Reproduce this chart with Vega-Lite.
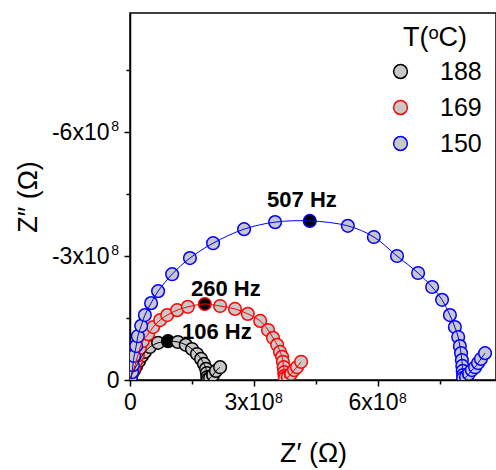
{
 "$schema": "https://vega.github.io/schema/vega-lite/v6.json",
 "width": 366,
 "height": 367,
 "autosize": {"type": "none"},
 "padding": {"left": 130, "top": 13, "right": 0, "bottom": 90},
 "config": {
  "font": "Liberation Sans",
  "view": {"stroke": "black", "strokeWidth": 1.5},
  "axis": {"grid": false, "domainColor": "black", "domainWidth": 1.5, "tickColor": "black", "tickWidth": 1.5, "labelColor": "black", "titleColor": "black", "labelFontSize": 23, "titleFontSize": 27, "titleFontWeight": "normal", "labelOverlap": false, "labelFlush": false}
 },
 "datasets": {
  "nyq": [
   {"T":"188","i":1,"zr":0.02e8,"zi":-0.05e8,"peak":false},
   {"T":"188","i":2,"zr":0.05e8,"zi":-0.15e8,"peak":false},
   {"T":"188","i":3,"zr":0.10e8,"zi":-0.24e8,"peak":false},
   {"T":"188","i":4,"zr":0.15e8,"zi":-0.34e8,"peak":false},
   {"T":"188","i":5,"zr":0.22e8,"zi":-0.46e8,"peak":false},
   {"T":"188","i":6,"zr":0.29e8,"zi":-0.58e8,"peak":false},
   {"T":"188","i":7,"zr":0.36e8,"zi":-0.68e8,"peak":false},
   {"T":"188","i":8,"zr":0.48e8,"zi":-0.80e8,"peak":false},
   {"T":"188","i":9,"zr":0.68e8,"zi":-0.90e8,"peak":false},
   {"T":"188","i":10,"zr":0.92e8,"zi":-0.94e8,"peak":true},
   {"T":"188","i":11,"zr":1.16e8,"zi":-0.92e8,"peak":false},
   {"T":"188","i":12,"zr":1.35e8,"zi":-0.85e8,"peak":false},
   {"T":"188","i":13,"zr":1.50e8,"zi":-0.75e8,"peak":false},
   {"T":"188","i":14,"zr":1.62e8,"zi":-0.63e8,"peak":false},
   {"T":"188","i":15,"zr":1.72e8,"zi":-0.51e8,"peak":false},
   {"T":"188","i":16,"zr":1.79e8,"zi":-0.39e8,"peak":false},
   {"T":"188","i":17,"zr":1.84e8,"zi":-0.27e8,"peak":false},
   {"T":"188","i":18,"zr":1.86e8,"zi":-0.17e8,"peak":false},
   {"T":"188","i":19,"zr":1.87e8,"zi":-0.07e8,"peak":false},
   {"T":"188","i":20,"zr":1.89e8,"zi":-0.02e8,"peak":false},
   {"T":"188","i":21,"zr":1.94e8,"zi":-0.05e8,"peak":false},
   {"T":"188","i":22,"zr":2.01e8,"zi":-0.12e8,"peak":false},
   {"T":"188","i":23,"zr":2.08e8,"zi":-0.22e8,"peak":false},
   {"T":"188","i":24,"zr":2.18e8,"zi":-0.31e8,"peak":false},
   {"T":"169","i":1,"zr":0.02e8,"zi":-0.05e8,"peak":false},
   {"T":"169","i":2,"zr":0.05e8,"zi":-0.17e8,"peak":false},
   {"T":"169","i":3,"zr":0.10e8,"zi":-0.29e8,"peak":false},
   {"T":"169","i":4,"zr":0.15e8,"zi":-0.46e8,"peak":false},
   {"T":"169","i":5,"zr":0.19e8,"zi":-0.60e8,"peak":false},
   {"T":"169","i":6,"zr":0.24e8,"zi":-0.77e8,"peak":false},
   {"T":"169","i":7,"zr":0.31e8,"zi":-0.94e8,"peak":false},
   {"T":"169","i":8,"zr":0.44e8,"zi":-1.11e8,"peak":false},
   {"T":"169","i":9,"zr":0.56e8,"zi":-1.28e8,"peak":false},
   {"T":"169","i":10,"zr":0.73e8,"zi":-1.45e8,"peak":false},
   {"T":"169","i":11,"zr":0.90e8,"zi":-1.57e8,"peak":false},
   {"T":"169","i":12,"zr":1.14e8,"zi":-1.69e8,"peak":false},
   {"T":"169","i":13,"zr":1.40e8,"zi":-1.77e8,"peak":false},
   {"T":"169","i":14,"zr":1.81e8,"zi":-1.84e8,"peak":true},
   {"T":"169","i":15,"zr":2.18e8,"zi":-1.79e8,"peak":false},
   {"T":"169","i":16,"zr":2.54e8,"zi":-1.72e8,"peak":false},
   {"T":"169","i":17,"zr":2.85e8,"zi":-1.60e8,"peak":false},
   {"T":"169","i":18,"zr":3.15e8,"zi":-1.43e8,"peak":false},
   {"T":"169","i":19,"zr":3.34e8,"zi":-1.21e8,"peak":false},
   {"T":"169","i":20,"zr":3.46e8,"zi":-1.02e8,"peak":false},
   {"T":"169","i":21,"zr":3.56e8,"zi":-0.85e8,"peak":false},
   {"T":"169","i":22,"zr":3.63e8,"zi":-0.68e8,"peak":false},
   {"T":"169","i":23,"zr":3.68e8,"zi":-0.56e8,"peak":false},
   {"T":"169","i":24,"zr":3.70e8,"zi":-0.44e8,"peak":false},
   {"T":"169","i":25,"zr":3.72e8,"zi":-0.31e8,"peak":false},
   {"T":"169","i":26,"zr":3.73e8,"zi":-0.19e8,"peak":false},
   {"T":"169","i":27,"zr":3.74e8,"zi":-0.10e8,"peak":false},
   {"T":"169","i":28,"zr":3.75e8,"zi":-0.05e8,"peak":false},
   {"T":"169","i":29,"zr":3.82e8,"zi":-0.07e8,"peak":false},
   {"T":"169","i":30,"zr":3.90e8,"zi":-0.15e8,"peak":false},
   {"T":"169","i":31,"zr":3.97e8,"zi":-0.24e8,"peak":false},
   {"T":"169","i":32,"zr":4.04e8,"zi":-0.31e8,"peak":false},
   {"T":"169","i":33,"zr":4.14e8,"zi":-0.44e8,"peak":false},
   {"T":"150","i":1,"zr":0.02e8,"zi":-0.05e8,"peak":false},
   {"T":"150","i":2,"zr":0.05e8,"zi":-0.19e8,"peak":false},
   {"T":"150","i":3,"zr":0.07e8,"zi":-0.36e8,"peak":false},
   {"T":"150","i":4,"zr":0.10e8,"zi":-0.58e8,"peak":false},
   {"T":"150","i":5,"zr":0.15e8,"zi":-0.82e8,"peak":false},
   {"T":"150","i":6,"zr":0.19e8,"zi":-1.06e8,"peak":false},
   {"T":"150","i":7,"zr":0.27e8,"zi":-1.31e8,"peak":false},
   {"T":"150","i":8,"zr":0.36e8,"zi":-1.57e8,"peak":false},
   {"T":"150","i":9,"zr":0.51e8,"zi":-1.86e8,"peak":false},
   {"T":"150","i":10,"zr":0.68e8,"zi":-2.15e8,"peak":false},
   {"T":"150","i":11,"zr":1.02e8,"zi":-2.56e8,"peak":false},
   {"T":"150","i":12,"zr":1.45e8,"zi":-2.95e8,"peak":false},
   {"T":"150","i":13,"zr":2.01e8,"zi":-3.31e8,"peak":false},
   {"T":"150","i":14,"zr":2.76e8,"zi":-3.65e8,"peak":false},
   {"T":"150","i":15,"zr":3.51e8,"zi":-3.82e8,"peak":false},
   {"T":"150","i":16,"zr":4.35e8,"zi":-3.85e8,"peak":true},
   {"T":"150","i":17,"zr":5.27e8,"zi":-3.73e8,"peak":false},
   {"T":"150","i":18,"zr":5.90e8,"zi":-3.46e8,"peak":false},
   {"T":"150","i":19,"zr":6.46e8,"zi":-3.00e8,"peak":false},
   {"T":"150","i":20,"zr":6.97e8,"zi":-2.59e8,"peak":false},
   {"T":"150","i":21,"zr":7.31e8,"zi":-2.25e8,"peak":false},
   {"T":"150","i":22,"zr":7.55e8,"zi":-1.94e8,"peak":false},
   {"T":"150","i":23,"zr":7.74e8,"zi":-1.57e8,"peak":false},
   {"T":"150","i":24,"zr":7.86e8,"zi":-1.28e8,"peak":false},
   {"T":"150","i":25,"zr":7.94e8,"zi":-1.04e8,"peak":false},
   {"T":"150","i":26,"zr":7.98e8,"zi":-0.82e8,"peak":false},
   {"T":"150","i":27,"zr":8.01e8,"zi":-0.65e8,"peak":false},
   {"T":"150","i":28,"zr":8.03e8,"zi":-0.48e8,"peak":false},
   {"T":"150","i":29,"zr":8.04e8,"zi":-0.34e8,"peak":false},
   {"T":"150","i":30,"zr":8.05e8,"zi":-0.22e8,"peak":false},
   {"T":"150","i":31,"zr":8.06e8,"zi":-0.12e8,"peak":false},
   {"T":"150","i":32,"zr":8.06e8,"zi":-0.05e8,"peak":false},
   {"T":"150","i":33,"zr":8.13e8,"zi":-0.07e8,"peak":false},
   {"T":"150","i":34,"zr":8.20e8,"zi":-0.15e8,"peak":false},
   {"T":"150","i":35,"zr":8.27e8,"zi":-0.24e8,"peak":false},
   {"T":"150","i":36,"zr":8.35e8,"zi":-0.31e8,"peak":false},
   {"T":"150","i":37,"zr":8.42e8,"zi":-0.41e8,"peak":false},
   {"T":"150","i":38,"zr":8.49e8,"zi":-0.51e8,"peak":false},
   {"T":"150","i":39,"zr":8.59e8,"zi":-0.65e8,"peak":false}
  ],
  "notes": [
   {"label":"507 Hz","zr":4.16e8,"zi":-4.35e8},
   {"label":"260 Hz","zr":2.32e8,"zi":-2.20e8},
   {"label":"106 Hz","zr":2.10e8,"zi":-1.16e8}
  ],
  "sup": [
   {"ax":"x","zr":3e8,"zi":0,"s":"8"},
   {"ax":"x","zr":6e8,"zi":0,"s":"8"},
   {"ax":"y","zr":0,"zi":-3e8,"s":"8"},
   {"ax":"y","zr":0,"zi":-6e8,"s":"8"}
  ]
 },
 "encoding": {
  "x": {"field": "zr", "type": "quantitative",
   "scale": {"domain": [0, 8.855e8], "nice": false, "zero": false},
   "axis": {"title": "Z′ (Ω)", "values": [0, 1.5e8, 3e8, 4.5e8, 6e8, 7.5e8],
    "labelExpr": "datum.value % 3e8 == 0 ? (datum.value == 0 ? '0' : (datum.value / 1e8) + 'x10') : ''",
    "labelOffset": {"condition": {"test": "datum.value == 0", "value": 0}, "value": -5},
    "tickSize": {"condition": {"test": "datum.value % 3e8 == 0", "value": 6}, "value": 4},
    "labelPadding": 5, "titleX": 183, "titleY": 81, "titleBaseline": "alphabetic", "titleAlign": "center"}},
  "y": {"field": "zi", "type": "quantitative",
   "scale": {"domain": [-8.88e8, 0], "reverse": true, "nice": false, "zero": false},
   "axis": {"title": "Z″ (Ω)", "values": [-7.5e8, -6e8, -4.5e8, -3e8, -1.5e8, 0],
    "labelExpr": "datum.value % 3e8 == 0 ? (datum.value == 0 ? '0' : (datum.value / 1e8) + 'x10') : ''",
    "tickSize": {"condition": {"test": "datum.value % 3e8 == 0", "value": 6}, "value": 4},
    "labelPadding": {"condition": {"test": "datum.value == 0", "value": 5}, "value": 15},
    "titleX": -94, "titleY": 183.5, "titleAngle": -90, "titleBaseline": "alphabetic", "titleAlign": "center"}}
 },
 "layer": [
  {
   "data": {"name": "nyq"},
   "mark": {"type": "point", "shape": "circle", "filled": true, "size": 160, "strokeWidth": 1.5, "opacity": 1, "clip": true},
   "encoding": {
    "stroke": {"field": "T", "type": "nominal",
     "scale": {"domain": ["188", "169", "150"], "range": ["#000000", "#ff0000", "#0000ff"]},
     "legend": {"title": "T(ᵒC)", "orient": "none", "legendX": 258, "legendY": 12, "padding": 0,
      "titleFontSize": 27, "titleFontWeight": "normal", "titleColor": "black", "titleAnchor": "middle", "titlePadding": 7,
      "labelFontSize": 25, "labelColor": "black", "labelOffset": 27,
      "symbolType": "circle", "symbolSize": 190, "symbolFillColor": "#c8c8c8", "symbolStrokeWidth": 1.5, "symbolOpacity": 1,
      "rowPadding": 10}},
    "fill": {"condition": {"test": "datum.peak", "value": "#000000"}, "value": "#c8c8c8"}
   }
  },
  {
   "data": {"name": "nyq"},
   "mark": {"type": "line", "strokeWidth": 1, "interpolate": "catmull-rom", "clip": true},
   "encoding": {
    "stroke": {"field": "T", "type": "nominal", "legend": null},
    "order": {"field": "i", "type": "quantitative"}
   }
  },
  {
   "data": {"name": "notes"},
   "mark": {"type": "text", "fontWeight": "bold", "fontSize": 22, "align": "center", "baseline": "middle", "color": "black"},
   "encoding": {
    "text": {"field": "label", "type": "nominal"}
   }
  },
  {
   "data": {"name": "sup"},
   "transform": [{"filter": "datum.ax == 'x'"}],
   "mark": {"type": "text", "fontSize": 14, "align": "center", "baseline": "top", "dx": 25, "dy": 12, "color": "black", "clip": false},
   "encoding": {
    "text": {"field": "s", "type": "nominal"}
   }
  },
  {
   "data": {"name": "sup"},
   "transform": [{"filter": "datum.ax == 'y'"}],
   "mark": {"type": "text", "fontSize": 14, "align": "right", "baseline": "middle", "dx": -11, "dy": -5, "color": "black", "clip": false},
   "encoding": {
    "text": {"field": "s", "type": "nominal"}
   }
  }
 ]
}
